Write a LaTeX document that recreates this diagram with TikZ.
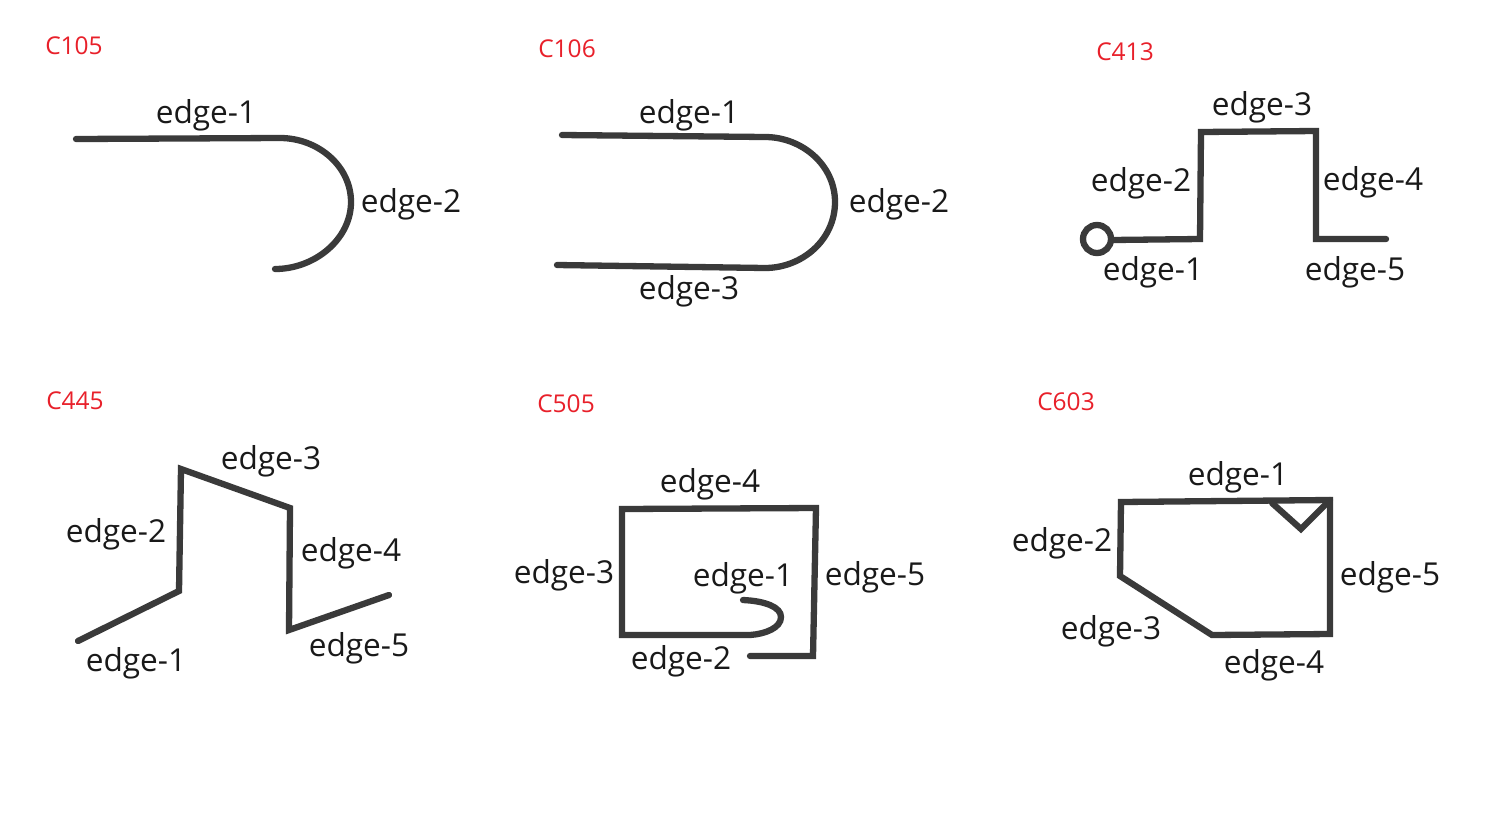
\documentclass[tikz,border=0pt]{standalone}
\usepackage{fontspec}
\setmainfont{Open Sans}
\definecolor{ink}{HTML}{3A3A3A}
\definecolor{tagred}{HTML}{E8202A}
\tikzset{
  x=1pt,y=-1pt,
  stroke/.style={draw=ink,line width=6.3pt,line join=miter,line cap=round},
  lab/.style={text=black!90,font=\fontsize{31.6}{34}\selectfont,inner sep=0pt,anchor=center,yshift=-2.5pt},
  tag/.style={text=tagred,font=\fontsize{24.5}{28}\selectfont,inner sep=0pt,anchor=center},
}
\begin{document}
\begin{tikzpicture}
\useasboundingbox (0,0) rectangle (1491,812);
% tags
\node[tag] (t1) at (74,46) {C105};
\node[tag] (t2) at (567,49) {C106};
\node[tag] (t3) at (1125,52) {C413};
\node[tag] (t4) at (75,401) {C445};
\node[tag] (t5) at (566,404) {C505};
\node[tag] (t6) at (1066,402) {C603};
% C105
\draw[stroke] (76,139) -- (280,138) .. controls (318,138) and (351,166) .. (351,202) .. controls (351,239) and (315,269) .. (275,269);
\node[lab] (a1) at (206,113) {edge-1};
\node[lab] (a2) at (411,202) {edge-2};
% C106
\draw[stroke] (562,135) -- (765,137) .. controls (802,137) and (835,165) .. (835,202) .. controls (835,240) and (802,268) .. (765,268) -- (557,265);
\node[lab] (b1) at (689,113) {edge-1};
\node[lab] (b2) at (899,202) {edge-2};
\node[lab] (b3) at (689,289) {edge-3};
% C413
\draw[stroke] (1112,240) -- (1200,239) -- (1201,132) -- (1316,131) -- (1316,239) -- (1386,239);
\draw[draw=ink,line width=6.3pt] (1097,239) circle (14);
\node[lab] (c1) at (1153,270) {edge-1};
\node[lab] (c2) at (1141,181) {edge-2};
\node[lab] (c3) at (1262,105) {edge-3};
\node[lab] (c4) at (1373,180) {edge-4};
\node[lab] (c5) at (1355,270) {edge-5};
% C445
\draw[stroke] (78,641) -- (179,591) -- (181,469) -- (290,508) -- (289,630) -- (389,595);
\node[lab] (d1) at (136,661) {edge-1};
\node[lab] (d2) at (116,532) {edge-2};
\node[lab] (d3) at (271,459) {edge-3};
\node[lab] (d4) at (351,551) {edge-4};
\node[lab] (d5) at (359,646) {edge-5};
% C505
\draw[stroke] (743,600) .. controls (765,601) and (781,607) .. (781,617) .. controls (781,628) and (765,634) .. (750,635) -- (622,635) -- (622,509) -- (816,508) -- (813,656) -- (750,656);
\node[lab] (e1) at (743,576) {edge-1};
\node[lab] (e2) at (681,659) {edge-2};
\node[lab] (e3) at (564,573) {edge-3};
\node[lab] (e4) at (710,482) {edge-4};
\node[lab] (e5) at (875,575) {edge-5};
% C603
\draw[stroke] (1121,502) -- (1120,576) -- (1212,635) -- (1330,634) -- (1330,500) -- cycle;
\draw[stroke] (1272,503) -- (1301,529) -- (1330,500);
\node[lab] (f1) at (1238,475) {edge-1};
\node[lab] (f2) at (1062,541) {edge-2};
\node[lab] (f3) at (1111,629) {edge-3};
\node[lab] (f4) at (1274,663) {edge-4};
\node[lab] (f5) at (1390,575) {edge-5};
\end{tikzpicture}
\end{document}
